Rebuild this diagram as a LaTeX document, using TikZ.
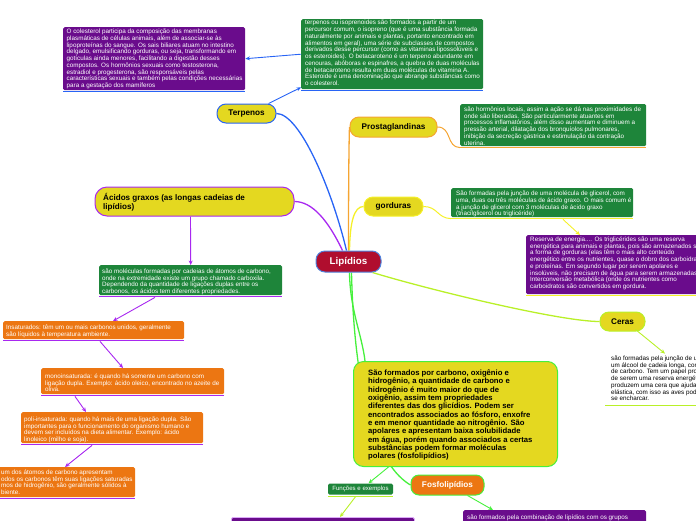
\documentclass[tikz,border=0pt]{standalone}
\usepackage{fontspec}
\setmainfont{Liberation Sans}
\usetikzlibrary{arrows.meta}
\definecolor{cpurple}{RGB}{106,12,140}
\definecolor{cgreen}{RGB}{30,133,58}
\definecolor{corange}{RGB}{236,118,18}
\definecolor{cyellow}{RGB}{228,216,32}
\definecolor{cred}{RGB}{176,14,46}
\definecolor{lipb}{RGB}{80,130,220}
\definecolor{lblue}{RGB}{40,100,245}
\definecolor{lpurple}{RGB}{168,40,240}
\definecolor{lorange}{RGB}{245,165,50}
\definecolor{lyellow}{RGB}{245,240,40}
\definecolor{llime}{RGB}{185,240,40}
\definecolor{lgreen}{RGB}{70,240,60}
\pgfdeclarelayer{bg}
\pgfsetlayers{bg,main}
\begin{document}
\begin{tikzpicture}[x=1pt,y=-1pt,
  panel/.style={rectangle,rounded corners=1.5pt,anchor=north west,inner sep=0pt},
  body/.style={anchor=north west,inner sep=0pt,align=left,font=\fontsize{6.3}{6.75}\selectfont},
  wbody/.style={body,text=white},
  topic/.style={rectangle,rounded corners=9pt,fill=cyellow,line width=1pt,inner sep=0pt,font=\fontsize{8.2}{9.5}\selectfont\bfseries},
  uline/.style={line width=1.3pt},
  branch/.style={line width=1.3pt},
  conn/.style={line width=1pt},
  arr/.style={line width=0.9pt,-{Stealth[length=4.5pt,width=4pt]}},
]
\useasboundingbox (0,0) rectangle (696,520);
\clip (0,0) rectangle (696,520);

% ---------- topic nodes ----------
\node[topic,fill=cred,draw=lipb,text=white,minimum width=65pt,minimum height=21pt,font=\fontsize{9.8}{11}\selectfont\bfseries] (lip) at (348.5,261.5) {Lipídios};
\node[topic,draw=lblue,minimum width=59pt,minimum height=19pt] (terp) at (246.5,113.5) {Terpenos};
\node[topic,draw=lorange,minimum width=87pt,minimum height=20pt] (prost) at (393.5,127) {Prostaglandinas};
\node[topic,draw=lyellow,minimum width=59pt,minimum height=19pt] (gord) at (393.5,206.5) {gorduras};
\node[topic,draw=llime,minimum width=45pt,minimum height=19pt] (ceras) at (622.5,321.5) {Ceras};
\node[topic,draw=lpurple,rounded corners=12pt,minimum width=199pt,minimum height=29pt] (acid) at (194.5,201.5) {};
\node[anchor=north west,inner sep=0pt,align=left,font=\fontsize{8.1}{9.2}\selectfont\bfseries] (acidt) at (103,193.3) {Ácidos graxos (as longas cadeias de\\lipídios)};
\node[topic,fill=corange,draw=lgreen,text=white,rounded corners=8pt,minimum width=73pt,minimum height=20pt] (fosfo) at (447.5,485) {Fosfolipídios};
\node[rectangle,rounded corners=1.5pt,fill=cgreen,text=white,minimum width=65pt,minimum height=11pt,inner sep=0pt,font=\fontsize{6.1}{7}\selectfont] (fun) at (360.5,489) {Funções e exemplos};

% ---------- big box ----------
\node[panel,rounded corners=10pt,fill=cyellow,draw=lgreen,line width=1pt,minimum width=204pt,minimum height=105pt] (big) at (353,361) {};
\node[anchor=north west,inner sep=0pt,align=left,font=\fontsize{7.7}{8.35}\selectfont\bfseries] (bigt) at (368,369.4) {São formados por carbono, oxigênio e\\hidrogênio, a quantidade de carbono e\\hidrogênio é muito maior do que de\\oxigênio, assim tem propriedades\\diferentes das dos glicídios. Podem ser\\encontrados associados ao fósforo, enxofre\\e em menor quantidade ao nitrogênio. São\\apolares e apresentam baixa solubilidade\\em água, porém quando associados a certas\\substâncias podem formar moléculas\\polares (fosfolipídios)};

% ---------- panels ----------
\node[panel,fill=cpurple,minimum width=182pt,minimum height=63pt] (pTL) at (63,27) {};
\node[panel,fill=cgreen,minimum width=182pt,minimum height=70pt] (gT) at (301,19) {};
\node[panel,fill=cgreen,minimum width=186pt,minimum height=42pt] (gP) at (460,104) {};
\node[panel,fill=cgreen,minimum width=182pt,minimum height=29pt] (gG) at (451,188) {};
\node[panel,fill=cpurple,minimum width=180pt,minimum height=59pt] (pR) at (526,235) {};
\node[panel,fill=cgreen,minimum width=183pt,minimum height=30pt] (gA) at (99,265) {};
\node[panel,fill=corange,minimum width=181pt,minimum height=18pt] (oI) at (3,321) {};
\node[panel,fill=corange,minimum width=183pt,minimum height=26pt] (oM) at (41,368) {};
\node[panel,fill=corange,minimum width=182pt,minimum height=31pt] (oP) at (21,412) {};
\node[panel,fill=corange,minimum width=141pt,minimum height=30pt] (oS) at (-6,467) {};
\node[panel,fill=cpurple,minimum width=183pt,minimum height=20pt] (pBR) at (463,510) {};
\node[panel,fill=cpurple,draw=lpurple!40,line width=0.8pt,minimum width=183pt,minimum height=10pt] (pBL) at (231,517) {};

% ---------- panel texts ----------
\node[wbody] (pTLt) at (66.5,28.8) {O colesterol participa da composição das membranas\\plasmáticas de células animais, além de associar-se às\\lipoproteínas do sangue. Os sais biliares atuam no intestino\\delgado, emulsificando gorduras, ou seja, transformando em\\gotículas ainda menores, facilitando a digestão desses\\compostos. Os hormônios sexuais como testosterona,\\estradiol e progesterona, são responsáveis pelas\\características sexuais e também pelas condições necessárias\\para a gestação dos mamíferos};
\node[wbody] (gTt) at (305,20.1) {terpenos ou isoprenoides são formados a partir de um\\percursor comum, o isopreno (que é uma substância formada\\naturalmente por animais e plantas, portanto encontrado em\\alimentos em geral), uma série de subclasses de compostos\\derivados desse percursor (como as vitaminas lipossolúveis e\\os esteroides). O betacaroteno é um terpeno abundante em\\cenouras, abóboras e espinafres, a quebra de duas moléculas\\de betacaroteno resulta em duas moléculas de vitamina A.\\Esteroide é uma denominação que abrange substâncias como\\o colesterol.};
\node[wbody] (gPt) at (464,106.6) {são hormônios locais, assim a ação se dá nas proximidades de\\onde são liberadas. São particularmente atuantes em\\processos inflamatórios, além disso aumentam e diminuem a\\pressão arterial, dilatação dos bronquíolos pulmonares,\\inibição da secreção gástrica e estimulação da contração\\uterina.};
\node[wbody] (gGt) at (456,190.8) {São formadas pela junção de uma molécula de glicerol, com\\uma, duas ou três moléculas de ácido graxo. O mais comum é\\a junção de glicerol com 3 moléculas de ácido graxo\\(triacilglicerol ou triglicéride)};
\node[wbody] (pRt) at (530,236.6) {Reserva de energia.... Os triglicérides são uma reserva\\energética para animais e plantas, pois são armazenados so\\a forma de gorduras (elas têm o mais alto conteúdo\\energético entre os nutrientes, quase o dobro dos carboidra\\e proteínas. Em segundo lugar por serem apolares e\\insolúveis, não precisam de água para serem armazenadas.\\Interconversão metabólica (onde os nutrientes como\\carboidratos são convertidos em gordura.};
\node[body] (cerast) at (611,355.6) {são formadas pela junção de u\\um álcool de cadeia longa, com\\de carbono. Tem um papel prot\\de serem uma reserva energéti\\produzem uma cera que ajuda\\elástica, com isso as aves pode\\se encharcar.};
\node[wbody] (gAt) at (102,268.6) {são moléculas formadas por cadeias de átomos de carbono,\\onde na extremidade existe um grupo chamado carboxila.\\Dependendo da quantidade de ligações duplas entre os\\carbonos, os ácidos tem diferentes propriedades.};
\node[wbody] (oIt) at (6,324.6) {Insaturados: têm um ou mais carbonos unidos, geralmente\\são líquidos à temperatura ambiente.};
\node[wbody] (oMt) at (45,373.6) {monoinsaturada: é quando há somente um carbono com\\ligação dupla. Exemplo: ácido oleico, encontrado no azeite de\\oliva.};
\node[wbody] (oPt) at (24,416.6) {poli-insaturada: quando há mais de uma ligação dupla. São\\importantes para o funcionamento do organismo humano e\\devem ser incluídos na dieta alimentar. Exemplo: ácido\\linoleico (milho e soja).};
\node[wbody] (oSt) at (1,469.6) {um dos átomos de carbono apresentam\\odos os carbonos têm suas ligações saturadas\\mos de hidrogênio, são geralmente sólidos à\\biente.};
\node[wbody] (pBRt) at (467,514.6) {são formados pela combinação de lipídios com os grupos};

% ---------- underlines ----------
\draw[uline,lblue] ([yshift=-1.2pt]pTL.south west) -- ([yshift=-1.2pt]pTL.south east);
\draw[uline,lblue] ([yshift=-1.2pt]gT.south west) -- ([yshift=-1.2pt]gT.south east);
\draw[uline,lorange] ([yshift=-1.2pt]gP.south west) -- ([yshift=-1.2pt]gP.south east);
\draw[uline,lyellow] ([yshift=-1.2pt]gG.south west) -- ([yshift=-1.2pt]gG.south east);
\draw[uline,lyellow] ([yshift=-1.2pt]pR.south west) -- ([yshift=-1.2pt]pR.south east);
\draw[uline,lpurple] ([yshift=-1.2pt]gA.south west) -- ([yshift=-1.2pt]gA.south east);
\draw[uline,lpurple] ([yshift=-1.2pt]oI.south west) -- ([yshift=-1.2pt]oI.south east);
\draw[uline,lpurple] ([yshift=-1.2pt]oM.south west) -- ([yshift=-1.2pt]oM.south east);
\draw[uline,lpurple] ([yshift=-1.2pt]oP.south west) -- ([yshift=-1.2pt]oP.south east);
\draw[uline,lpurple] ([yshift=-1.2pt]oS.south west) -- ([yshift=-1.2pt]oS.south east);
\draw[uline,llime] ([yshift=-1.5pt]fun.south west) -- ([yshift=-1.5pt]fun.south east);
\coordinate (cu1) at (605,405.5);
\coordinate (cu2) at (696,405.5);
\draw[uline,llime] (cu1) -- (cu2);

% ---------- connectors ----------
\begin{pgfonlayer}{bg}
\draw[branch,lblue] ([xshift=-2pt]lip.north) .. controls (332,190) and (300,113.5) .. (terp.east);
\draw[branch,lpurple] ([xshift=-6pt]lip.north) .. controls (328,220) and (312,201.5) .. (acid.east);
\draw[branch,lorange] (lip.north) .. controls (348.5,180) and (349,140) .. (prost.west);
\draw[branch,lyellow] ([xshift=1pt]lip.north) .. controls (350,222) and (354,206.5) .. (gord.west);
\draw[branch,llime] ([xshift=24pt]lip.south) .. controls (430,290) and (560,321.5) .. (ceras.west);
\draw[branch,lgreen] ([xshift=1pt]lip.south) .. controls (350,310) and (362,335) .. ([xshift=12pt]big.north west);
\draw[branch,lgreen] ([xshift=3pt]lip.south) .. controls (355,420) and (385,470) .. (fosfo.west);
\draw[conn,lorange] (prost.east) .. controls (452,127) and (446,147.2) .. ([yshift=-1.2pt]gP.south west);
\draw[conn,lyellow] (gord.east) .. controls (438,206.5) and (437,218.2) .. ([yshift=-1.2pt]gG.south west);
\end{pgfonlayer}
\draw[arr,lblue] ([xshift=22pt]terp.north) -- ([yshift=2pt]gT.south west);
\draw[arr,lblue] (gT.west) -- (pTL.east);
\draw[arr,lyellow] ([xshift=112pt,yshift=-2pt]gG.south west) -- ([xshift=54pt]pR.north west);
\draw[arr,llime] ([xshift=13pt,yshift=2pt]ceras.south) -- ([xshift=54pt,yshift=2pt]cerast.north west);
\draw[arr,lpurple] ([xshift=-4pt]acid.south) -- (gA.north);
\draw[arr,lpurple] ([xshift=56pt,yshift=-2pt]gA.south west) -- ([xshift=110pt]oI.north west);
\draw[arr,lpurple] ([xshift=97pt,yshift=-2pt]oI.south west) -- ([xshift=82pt]oM.north west);
\draw[arr,lpurple] ([xshift=34pt,yshift=-2pt]oM.south west) -- ([xshift=65pt]oP.north west);
\draw[arr,lpurple] ([xshift=71pt,yshift=-2pt]oP.south west) -- ([xshift=71pt]oS.north west);
\draw[arr,lgreen] ([xshift=-67pt]big.south) -- ([xshift=8pt]fun.north);
\draw[arr,llime] ([xshift=-5pt,yshift=-2pt]fun.south) -- ([xshift=109pt]pBL.north west);
\draw[arr,lgreen] ([xshift=20pt]fosfo.south) -- ([xshift=30pt]pBR.north west);
\end{tikzpicture}
\end{document}
